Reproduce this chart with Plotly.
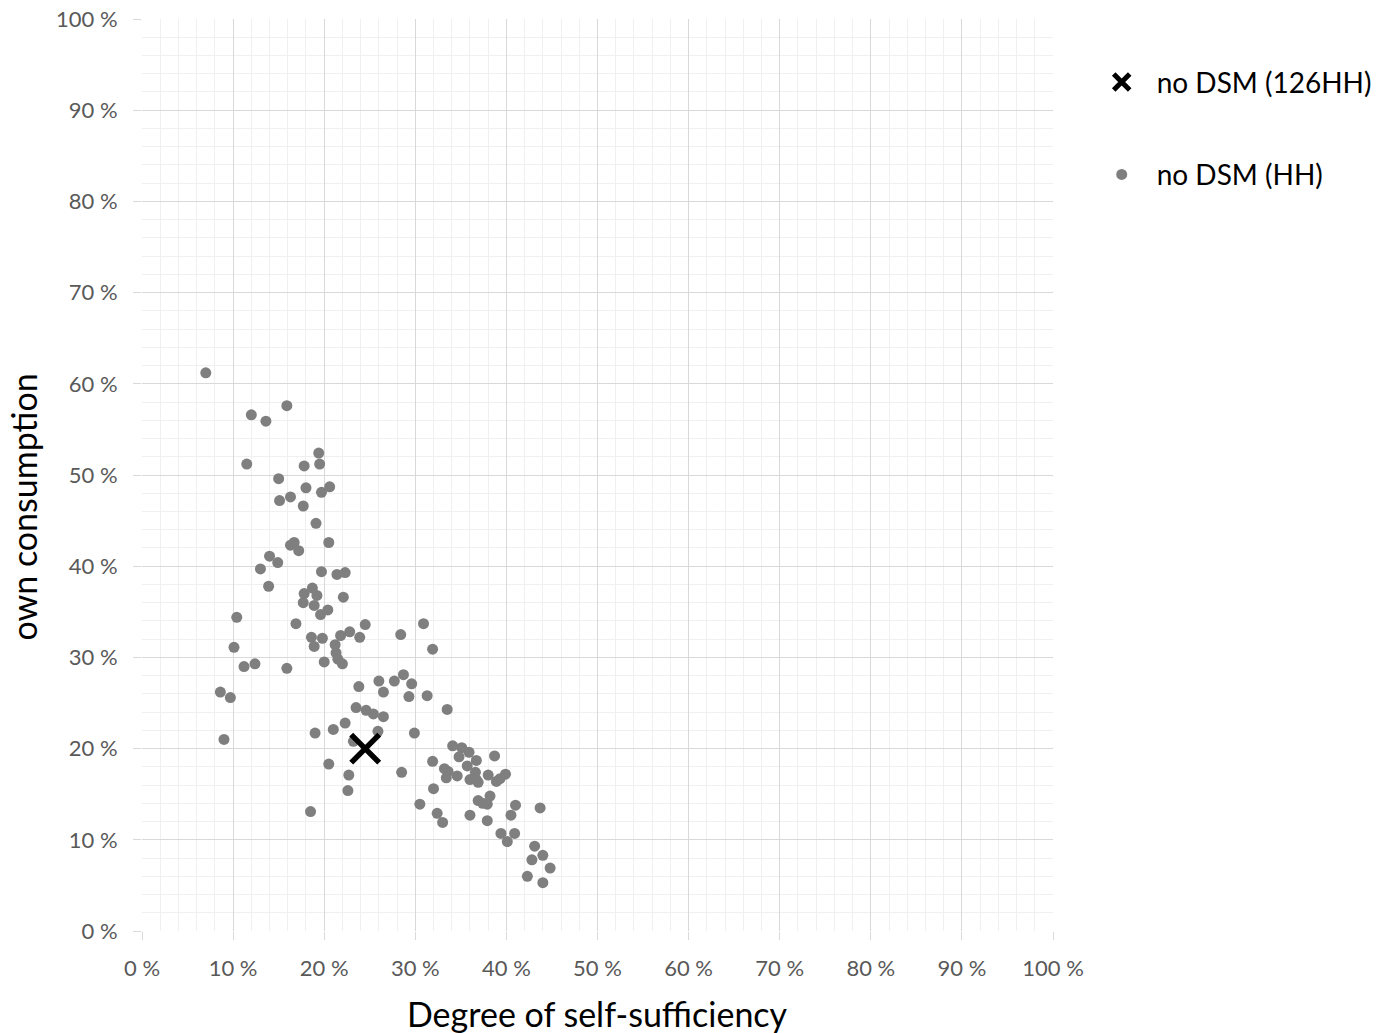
import plotly.graph_objects as go

# Individual households (degree of self-sufficiency %, own consumption %)
hh_x = [7.0, 12.0, 13.6, 15.9, 11.5, 19.4, 19.5, 17.8, 15.0, 18.0, 20.6, 19.7, 15.1, 16.3, 17.7, 19.1,
        20.5, 16.3, 16.7, 17.2, 14.0, 14.9, 13.0, 13.9, 19.7, 21.4, 22.3, 18.7, 17.8, 19.2, 22.1, 17.7,
        18.9, 20.4, 19.6, 10.4, 16.9, 10.1, 24.5, 22.8, 21.8, 23.9, 19.8, 18.6, 18.9, 21.2, 21.3, 21.5,
        22.0, 20.0, 11.2, 12.4, 15.9, 8.6, 9.7, 9.0,
        28.4, 30.9, 31.9, 28.7, 27.7, 26.0, 29.6, 23.8, 26.5, 29.3, 31.3, 33.5, 23.5, 24.6, 25.4, 26.5,
        22.3, 21.0, 19.0, 25.9, 23.2, 29.9, 20.5, 22.7, 22.6, 18.5, 28.5, 31.9, 32.0, 30.5, 32.4, 33.0,
        34.1, 35.1, 35.9, 34.8, 36.7, 38.7, 35.7, 33.2, 33.6, 34.6, 33.4, 36.6, 36.7, 36.0, 36.9, 38.0,
        38.9, 39.3, 39.9, 38.2, 36.9, 37.4, 37.9, 41.0, 43.7, 36.0, 37.9, 40.5, 39.4, 40.1, 40.9, 43.1,
        42.8, 44.0, 44.8, 42.3, 44.0]
hh_y = [61.2, 56.6, 55.9, 57.6, 51.2, 52.4, 51.2, 51.0, 49.6, 48.6, 48.7, 48.1, 47.2, 47.6, 46.6, 44.7,
        42.6, 42.3, 42.6, 41.7, 41.1, 40.4, 39.7, 37.8, 39.4, 39.1, 39.3, 37.6, 37.0, 36.8, 36.6, 36.0,
        35.7, 35.2, 34.7, 34.4, 33.7, 31.1, 33.6, 32.8, 32.4, 32.2, 32.1, 32.2, 31.2, 31.4, 30.5, 29.8,
        29.3, 29.5, 29.0, 29.3, 28.8, 26.2, 25.6, 21.0,
        32.5, 33.7, 30.9, 28.1, 27.4, 27.4, 27.1, 26.8, 26.2, 25.7, 25.8, 24.3, 24.5, 24.2, 23.8, 23.5,
        22.8, 22.1, 21.7, 21.9, 20.8, 21.7, 18.3, 17.1, 15.4, 13.1, 17.4, 18.6, 15.6, 13.9, 12.9, 11.9,
        20.3, 20.1, 19.6, 19.1, 18.7, 19.2, 18.1, 17.8, 17.5, 17.0, 16.8, 17.4, 16.6, 16.6, 16.3, 17.1,
        16.4, 16.7, 17.2, 14.8, 14.3, 14.0, 13.9, 13.8, 13.5, 12.7, 12.1, 12.7, 10.7, 9.8, 10.7, 9.3,
        7.8, 8.3, 6.9, 6.0, 5.3]

# Aggregate of all 126 households
agg_x = [24.5]
agg_y = [20.0]

tick_vals = list(range(0, 101, 10))
tick_text = [f"{v} %" for v in tick_vals]

FONT = "Lato"
GRID = "#d9d9d9"
MINOR = "#f0f0f0"
TICKCOL = "#595959"

fig = go.Figure()
fig.add_trace(go.Scatter(
    x=hh_x, y=hh_y, mode="markers", name="no DSM (HH)", legendgroup="b", legendrank=2,
    marker=dict(symbol="circle", size=11, color="#7f7f7f"),
))
fig.add_trace(go.Scatter(
    x=agg_x, y=agg_y, mode="markers", name="no DSM (126HH)", legendgroup="a", legendrank=1,
    marker=dict(symbol="x-thin", size=28, color="black", line=dict(width=5.5, color="black")),
))

axis_common = dict(
    range=[0, 100], tickvals=tick_vals, ticktext=tick_text,
    showgrid=True, gridcolor=GRID, gridwidth=1,
    minor=dict(dtick=2, showgrid=True, gridcolor=MINOR, gridwidth=1),
    zeroline=False, showline=False,
    ticks="outside", ticklen=8, tickcolor=GRID,
    tickfont=dict(family=FONT, size=22, color=TICKCOL),
    fixedrange=True, automargin=False,
)

fig.update_layout(
    width=1378, height=1033,
    margin=dict(l=142, r=325, t=19, b=102, autoexpand=False),
    plot_bgcolor="white", paper_bgcolor="white",
    xaxis=dict(**axis_common, ticklabelstandoff=10),
    yaxis=dict(**axis_common, ticklabelstandoff=11),
    legend=dict(
        x=1.037, xanchor="left", y=0.958, yanchor="top",
        font=dict(family=FONT, size=28, color="#000000"),
        traceorder="grouped", tracegroupgap=53, itemwidth=60,
        bgcolor="rgba(0,0,0,0)",
    ),
    showlegend=True,
    annotations=[
        dict(text="Degree of self-sufficiency", xref="paper", yref="paper",
             x=0.5, y=-0.09, xanchor="center", yanchor="middle", showarrow=False,
             font=dict(family=FONT, size=34, color="#000000")),
        dict(text="own consumption", xref="paper", yref="paper",
             x=-0.13, y=0.465, xanchor="center", yanchor="middle", showarrow=False,
             textangle=-90, font=dict(family=FONT, size=34, color="#000000")),
    ],
)

fig.write_html("out.html")
